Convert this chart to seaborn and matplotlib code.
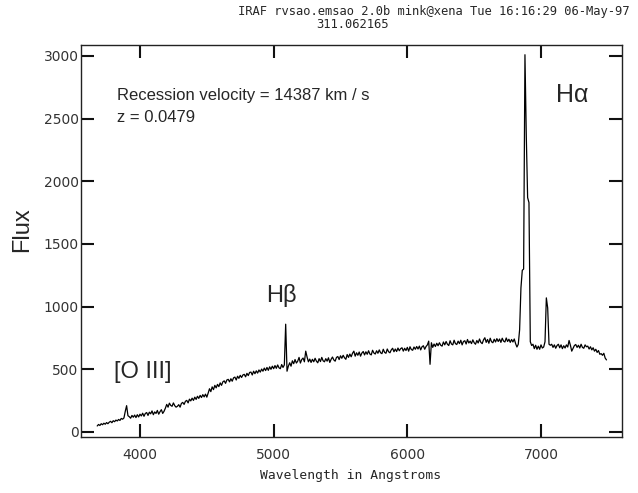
import numpy as np
import pandas as pd
import seaborn as sns
import matplotlib
matplotlib.use("Agg")
import matplotlib.pyplot as plt

wave_start, wave_stop, wave_step = 3680, 7490, 10
flux = [
    48, 60, 52, 66, 58, 70, 62, 75, 66, 78,
    85, 74, 90, 82, 95, 88, 100, 92, 108, 102,
    112, 165, 210, 130, 122, 110, 132, 118, 135, 115,
    138, 120, 142, 128, 150, 125, 148, 155, 132, 158,
    145, 168, 138, 160, 148, 172, 142, 162, 178, 148,
    165, 190, 220, 198, 230, 212, 205, 232, 210, 198,
    205, 218, 198, 228, 236, 220, 245, 252, 232, 262,
    248, 270, 252, 278, 260, 285, 268, 292, 275, 298,
    280, 302, 278, 310, 345, 322, 360, 338, 372, 352,
    380, 362, 392, 372, 400, 408, 388, 415, 420, 400,
    425, 405, 432, 438, 415, 445, 428, 452, 435, 455,
    460, 440, 468, 450, 475, 478, 455, 485, 465, 488,
    470, 495, 478, 502, 485, 510, 490, 515, 492, 520,
    500, 525, 505, 530, 508, 535, 512, 505, 538, 515,
    535, 860, 485, 525, 552, 525, 568, 545, 578, 550,
    565, 595, 550, 578, 590, 560, 645, 598, 560, 582,
    555, 580, 560, 588, 565, 552, 585, 562, 595, 568,
    560, 585, 565, 592, 555, 580, 598, 575, 565, 595,
    602, 578, 608, 588, 612, 592, 580, 618, 595, 622,
    600, 628, 645, 605, 632, 612, 638, 605, 630, 642,
    615, 640, 620, 648, 622, 615, 652, 630, 622, 648,
    628, 655, 632, 625, 660, 635, 628, 662, 640, 632,
    655, 668, 640, 662, 642, 670, 648, 665, 672, 645,
    668, 650, 675, 645, 680, 658, 652, 678, 660, 682,
    662, 685, 655, 680, 688, 660, 682, 695, 725, 540,
    712, 675, 702, 682, 708, 688, 712, 692, 685, 718,
    695, 722, 700, 690, 728, 702, 695, 732, 705, 698,
    725, 705, 732, 695, 722, 728, 702, 738, 710, 725,
    705, 735, 712, 700, 730, 710, 742, 715, 705, 735,
    752, 715, 738, 708, 748, 720, 712, 740, 718, 745,
    722, 742, 715, 748, 725, 718, 750, 722, 740, 715,
    738, 718, 742, 705, 678, 700, 815, 1150, 1290, 1300,
    3010, 2360, 1870, 1830, 720, 690, 700, 665, 692, 660,
    685, 660, 695, 670, 678, 720, 1070, 990, 700, 692,
    700, 675, 695, 668, 690, 700, 672, 695, 665, 688,
    670, 695, 678, 730, 692, 645, 668, 690, 698, 675,
    692, 670, 700, 675, 668, 695, 680, 685, 662, 680,
    655, 672, 645, 660, 635, 650, 620, 625, 612, 628,
    590, 575,
]
wavelength = np.arange(wave_start, wave_stop + 1, wave_step)

x_ticks = [4000, 5000, 6000, 7000]
y_ticks = [0, 500, 1000, 1500, 2000, 2500, 3000]

title_1 = "IRAF rvsao.emsao 2.0b mink@xena Tue 16:16:29 06-May-97"
title_2 = "311.062165"
velocity_text = "Recession velocity = 14387 km / s"
z_text = "z = 0.0479"

df = pd.DataFrame({"Wavelength": wavelength, "Flux": flux})

sns.set_style("ticks")

W, H = 638, 493
fig = plt.figure(figsize=(W / 100, H / 100), dpi=100)
ax = fig.add_axes([81.3 / W, 1 - 437 / H, (622 - 81.3) / W, (437 - 44.7) / H])

sns.lineplot(data=df, x="Wavelength", y="Flux", ax=ax, color="black",
             linewidth=0.9, estimator=None, sort=False)

ax.set_xlim(3561, 7606)
ax.set_ylim(-40, 3090)
ax.set_xticks(x_ticks)
ax.set_yticks(y_ticks)
ax.tick_params(axis="x", which="major", direction="in", length=9.5, width=1.5,
               top=True, bottom=True, labelsize=10, color="#111111",
               labelcolor="#333333", pad=8)
ax.tick_params(axis="y", which="major", direction="in", length=9.5, width=1.5,
               left=True, right=True, labelsize=10, color="#111111",
               labelcolor="#333333", pad=2)
for s in ax.spines.values():
    s.set_linewidth(1)
    s.set_color("#222222")
ax.set_xlabel("")
ax.set_ylabel("")

# texts
fig.text(630 / W, 1 - 12 / H, title_1, ha="right", va="center",
         family="DejaVu Sans Mono", fontsize=8.7)
fig.text(352 / W, 1 - 24 / H, title_2, ha="center", va="center",
         family="DejaVu Sans Mono", fontsize=8.7)
fig.text(351 / W, 1 - 476 / H, "Wavelength in Angstroms", ha="center", va="center",
         family="DejaVu Sans Mono", fontsize=9.4)
fig.text(22 / W, 1 - 230 / H, "Flux", rotation=90, ha="center", va="center",
         family="Liberation Sans", fontsize=17)

ax.text(3828, 2681, velocity_text, ha="left", va="center",
        family="Liberation Sans", fontsize=12)
ax.text(3828, 2506, z_text, ha="left", va="center",
        family="Liberation Sans", fontsize=12)
ax.text(7231, 2690, "H\u03b1", ha="center", va="center",
        family="Liberation Sans", fontsize=18)
ax.text(5055, 1085, "H\u03b2", ha="center", va="center",
        family="Liberation Sans", fontsize=17)
ax.text(4023, 479, "[O III]", ha="center", va="center",
        family="Liberation Sans", fontsize=17)

fig.savefig("out.png", dpi=100, facecolor="white")
